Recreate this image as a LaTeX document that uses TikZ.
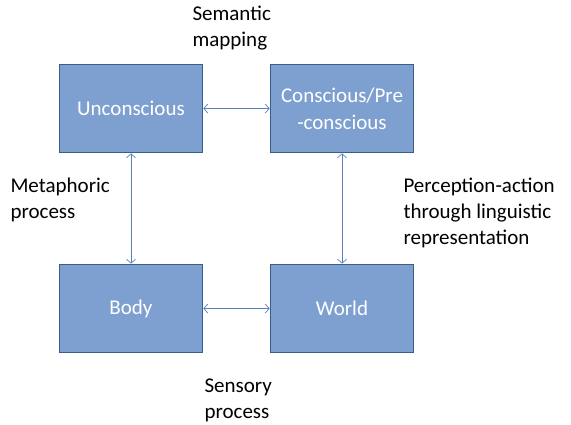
\documentclass[tikz,border=0pt]{standalone}
\usepackage{fontspec}
\setmainfont{Carlito}
\usepackage{xcolor}
\usepackage{tikz}
\usetikzlibrary{arrows.meta,positioning}

\definecolor{boxfill}{RGB}{126,160,208}
\definecolor{boxline}{RGB}{58,94,140}
\definecolor{linkblue}{RGB}{88,128,188}

\begin{document}
\begin{tikzpicture}[x=1pt,y=1pt,
    stage/.style={draw=boxline, line width=1.6pt, fill=boxfill, minimum width=143pt,
        minimum height=88pt, text=white, font=\fontsize{21}{27}\selectfont, align=center},
    link/.style={draw=linkblue, line width=0.7pt, {Straight Barb[length=4pt,width=9pt]}-{Straight Barb[length=4pt,width=9pt]}},
    note/.style={anchor=west, align=left, font=\fontsize{21}{26}\selectfont}]
        % Frame
        \useasboundingbox (0,0) rectangle (571,425);

        % Boxes
        \node[stage] (uncon) at (131,316.5) {Unconscious};
        \node[stage] (con) at (342,316.5) {Conscious/Pre\\-conscious};
        \node[stage] (body) at (131,116.5) {Body};
        \node[stage] (world) at (342,116.5) {World};

        % Links between the boxes
        \draw[link] (uncon) -- (con);
        \draw[link] (body) -- (world);
        \draw[link] (uncon) -- (body);
        \draw[link] (con) -- (world);

        % Labels
        \node[note] (semlab) at (189,397) {Semantic\\mapping};
        \node[note] (metlab) at (7,225) {Metaphoric\\process};
        \node[note] (perlab) at (400,212) {Perception-action\\through linguistic\\representation};
        \node[note] (senlab) at (201,25) {Sensory\\process};
    \end{tikzpicture}
\end{document}
